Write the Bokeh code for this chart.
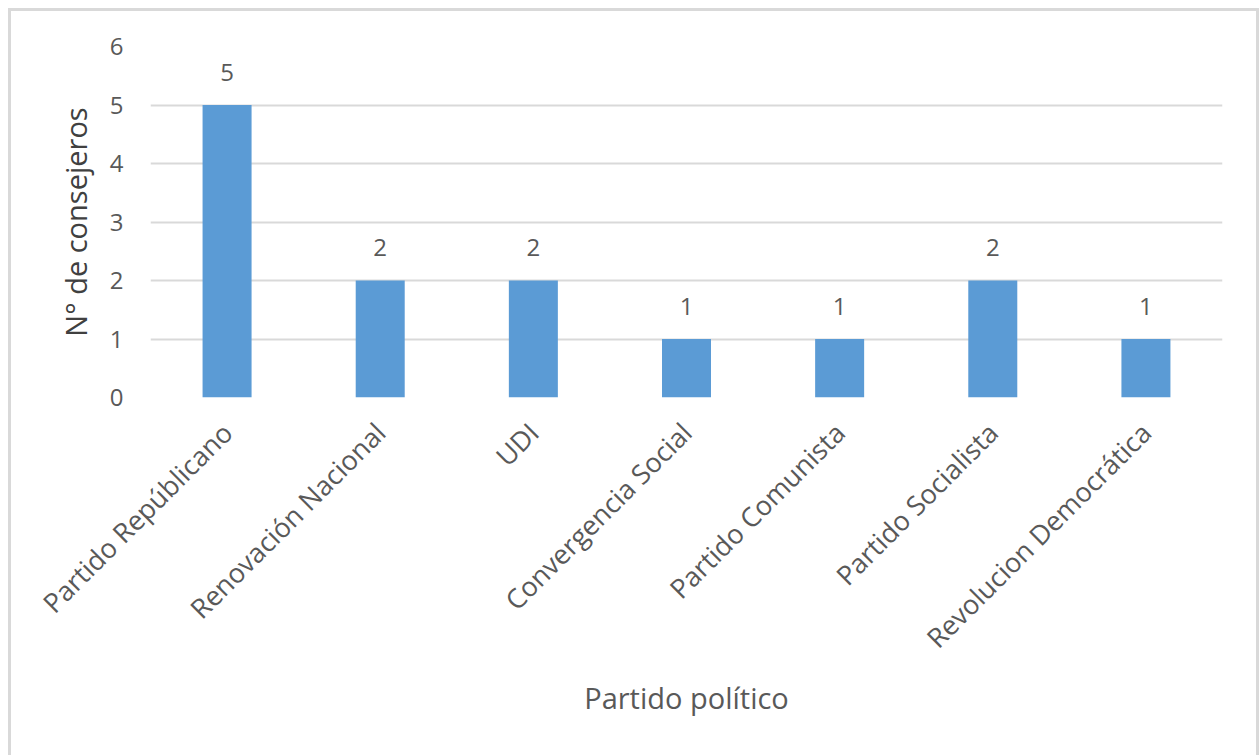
from bokeh.plotting import figure
from bokeh.models import ColumnDataSource, LabelSet, FixedTicker
from bokeh.core.properties import value
from bokeh.embed import file_html
from bokeh.resources import INLINE
import math

partidos = ["Partido Repúblicano", "Renovación Nacional", "UDI", "Convergencia Social",
            "Partido Comunista", "Partido Socialista", "Revolucion Democrática"]
consejeros = [5, 2, 2, 1, 1, 2, 1]
y_ticks = [0, 1, 2, 3, 4, 5, 6]

FONT = "Open Sans"
TXT = "#595959"
GRID = "#D9D9D9"

src = ColumnDataSource(dict(x=partidos, y=consejeros, lab=[str(v) for v in consejeros]))

p = figure(x_range=partidos, y_range=(0, 6), width=1259, height=755,
           output_backend="svg", toolbar_location=None,
           min_border_left=150, min_border_right=37, min_border_top=46, min_border_bottom=358)
p.outline_line_color = None
p.border_fill_color = None
p.background_fill_color = "white"
p.styles = {
    "background-color": "white",
    "background-image": "linear-gradient(#D9D9D9,#D9D9D9), linear-gradient(#D9D9D9,#D9D9D9), linear-gradient(#D9D9D9,#D9D9D9)",
    "background-size": "3px 800px, 1250px 3px, 3px 800px",
    "background-position": "8px 8px, 8px 8px, 1256px 8px",
    "background-repeat": "no-repeat",
}

p.vbar(x="x", top="y", width=0.32, source=src, color="#5B9BD5", line_color=None)

labels = LabelSet(x="x", y="y", text="lab", source=src, y_offset=33, text_align="center",
                  text_baseline="middle", text_font=value(FONT), text_font_size="24px",
                  text_color=TXT)
p.add_layout(labels)

p.yaxis.ticker = FixedTicker(ticks=y_ticks)
p.xgrid.grid_line_color = None
p.ygrid.grid_line_color = GRID
p.ygrid.grid_line_width = 2

for ax in (p.xaxis[0], p.yaxis[0]):
    ax.axis_line_color = None
    ax.major_tick_line_color = None
    ax.minor_tick_line_color = None
    ax.major_tick_out = 0
    ax.major_tick_in = 0
    ax.major_label_text_font = FONT
    ax.major_label_text_color = TXT
    ax.axis_label_text_font = FONT
    ax.axis_label_text_font_style = "normal"

p.yaxis.major_label_text_font_size = "24px"
p.yaxis.major_label_standoff = 27
p.yaxis.axis_label = "N° de consejeros"
p.yaxis.axis_label_text_font_size = "29px"
p.yaxis.axis_label_text_color = "#404040"
p.yaxis.axis_label_standoff = 12

p.xaxis.major_label_orientation = math.pi / 4
p.xaxis.major_label_text_font_size = "27px"
p.xaxis.major_label_standoff = 30
p.xaxis.axis_label = "Partido político"
p.xaxis.axis_label_text_font_size = "29px"
p.xaxis.axis_label_text_color = TXT
p.xaxis.axis_label_standoff = 6

open("out.html", "w").write(file_html(p, INLINE))
